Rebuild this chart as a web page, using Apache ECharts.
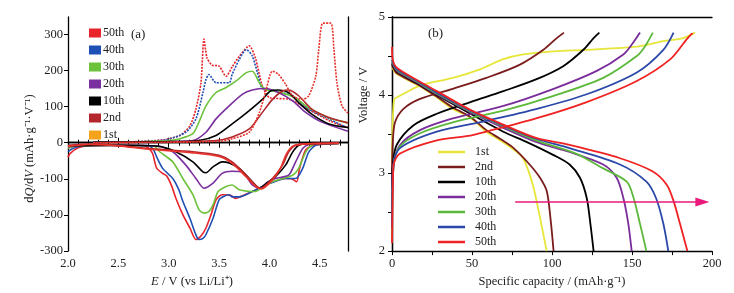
<!DOCTYPE html>
<html>
<head>
<meta charset="utf-8">
<script src="https://cdn.jsdelivr.net/npm/echarts@6/dist/echarts.min.js"></script>
<style>
  html, body { margin: 0; padding: 0; background: #fff; }
  #chart { width: 734px; height: 293px; }
</style>
</head>
<body>
<div id="chart"></div>
<script>
// (a) dQ/dV curves, [E / V, dQ/dV]
var cycles = ["1st", "2nd", "10th", "20th", "30th", "40th", "50th"];

var dqCharge50 = [[2.25,1],[2.6,2],[2.94,8],[3.11,20],[3.21,47],[3.27,93],[3.32,166],[3.35,287],[3.38,235],[3.43,215],[3.5,212],[3.57,184],[3.63,210],[3.7,239],[3.8,268],[3.86,235],[3.93,157],[4.0,125],[4.2,120],[4.4,90],[4.6,60],[4.78,42]];
var dqCharge40 = [[2.25,1],[2.6,2],[2.97,8],[3.17,29],[3.27,66],[3.34,139],[3.37,175],[3.4,189],[3.47,166],[3.6,166],[3.63,189],[3.7,230],[3.77,258],[3.83,240],[3.88,194],[3.93,150],[4.03,144],[4.23,130],[4.39,93],[4.59,66],[4.78,40]];
var dqCharge30 = [[2.25,1],[2.6,2],[3.0,6],[3.11,11],[3.24,25],[3.3,57],[3.37,102],[3.47,139],[3.57,153],[3.67,171],[3.77,194],[3.83,198],[3.9,166],[3.96,148],[4.1,140],[4.25,125],[4.4,95],[4.6,68],[4.78,55]];
var dqCharge20 = [[2.25,1],[2.6,2],[3.0,3],[3.24,6],[3.37,29],[3.47,66],[3.6,102],[3.73,134],[3.83,146],[3.96,150],[4.09,139],[4.23,116],[4.36,84],[4.52,57],[4.78,32]];
var dqCharge10 = [[2.25,1],[2.6,2],[3.0,3],[3.3,6],[3.47,20],[3.63,52],[3.8,89],[3.93,120],[4.01,143],[4.09,146],[4.19,139],[4.29,111],[4.42,79],[4.59,52],[4.78,42]];
var dqCharge2 = [[2.25,0],[2.6,1],[3.0,2],[3.47,6],[3.63,16],[3.8,38],[3.93,84],[4.03,120],[4.13,143],[4.19,146],[4.29,130],[4.42,93],[4.59,70],[4.78,55]];
var dqCharge1 = [[2.25,0],[3.0,1],[3.5,4],[3.63,11],[3.8,29],[3.9,84],[3.96,139],[4.03,198],[4.09,189],[4.16,162],[4.23,130],[4.33,120],[4.39,130],[4.46,184],[4.49,258],[4.53,331],[4.61,331],[4.64,258],[4.67,166],[4.72,102],[4.78,82]];

var dqDischarge50 = [[2.0,-40],[2.02,-30],[2.1,-14],[2.2,-8],[2.5,-7],[2.75,-8],[2.8,-15],[2.84,-30],[2.88,-70],[2.94,-85],[2.98,-92],[3.03,-120],[3.07,-153],[3.14,-199],[3.21,-236],[3.27,-268],[3.32,-258],[3.37,-236],[3.42,-199],[3.47,-158],[3.53,-144],[3.62,-146],[3.66,-154],[3.75,-145],[3.9,-126],[4.0,-112],[4.16,-99],[4.22,-100],[4.27,-108],[4.3,-70],[4.36,-20],[4.44,-7],[4.69,-3]];
var dqDischarge40 = [[2.0,-25],[2.05,-15],[2.15,-8],[2.5,-7],[2.8,-8],[2.85,-20],[2.88,-39],[2.94,-71],[3.04,-99],[3.1,-130],[3.14,-162],[3.21,-209],[3.27,-255],[3.3,-268],[3.34,-265],[3.37,-254],[3.44,-209],[3.5,-158],[3.55,-148],[3.6,-144],[3.63,-150],[3.7,-150],[3.83,-135],[3.96,-117],[4.05,-108],[4.16,-99],[4.26,-99],[4.33,-71],[4.39,-26],[4.46,-7],[4.6,-3],[4.69,-2]];
var dqDischarge30 = [[2.0,-15],[2.1,-9],[2.5,-7],[2.85,-9],[2.91,-25],[3.04,-53],[3.14,-99],[3.24,-144],[3.3,-185],[3.35,-195],[3.4,-190],[3.44,-172],[3.49,-135],[3.57,-121],[3.63,-117],[3.7,-130],[3.86,-135],[3.95,-120],[4.03,-108],[4.23,-90],[4.29,-71],[4.36,-26],[4.42,-7],[4.5,-3],[4.69,-2]];
var dqDischarge20 = [[2.0,-12],[2.1,-8],[2.5,-7],[2.9,-9],[3.04,-25],[3.17,-62],[3.27,-99],[3.35,-126],[3.44,-112],[3.53,-85],[3.63,-79],[3.73,-81],[3.83,-117],[3.9,-126],[3.98,-110],[4.06,-99],[4.19,-90],[4.26,-53],[4.33,-16],[4.39,-5],[4.5,-2],[4.69,-1]];
var dqDischarge10 = [[2.0,-8],[2.1,-8],[2.5,-7],[2.9,-10],[3.07,-25],[3.24,-53],[3.34,-81],[3.37,-83],[3.44,-67],[3.53,-53],[3.6,-56],[3.7,-71],[3.83,-108],[3.9,-126],[3.98,-110],[4.06,-94],[4.16,-62],[4.23,-26],[4.29,-7],[4.36,-3],[4.69,-1]];
var dqDischarge2 = [[2.0,-8],[2.2,-4],[2.5,-8],[2.8,-16],[3.24,-25],[3.5,-35],[3.63,-53],[3.77,-90],[3.86,-117],[3.91,-126],[4.03,-99],[4.13,-62],[4.19,-26],[4.26,-7],[4.39,-3],[4.69,-1]];
var dqDischarge1 = [[2.0,-10],[2.2,-5],[2.5,-9],[2.8,-18],[3.24,-28],[3.5,-38],[3.63,-57],[3.77,-95],[3.86,-120],[3.92,-128],[4.03,-103],[4.11,-70],[4.17,-30],[4.24,-8],[4.39,-3],[4.69,-1]];

// (b) charge / discharge curves, [capacity mAh/g, voltage V]
var vCharge1 = [[0,3.1],[0.3,3.6],[0.8,3.82],[1.6,3.95],[5,3.99],[17.5,4.12],[38,4.22],[55,4.33],[69.6,4.46],[82,4.52],[101,4.56],[121.7,4.58],[153,4.62],[169.6,4.69],[182,4.73],[189.4,4.8]];
var vCharge2 = [[0,3.0],[0.5,3.4],[1.9,3.65],[7,3.82],[17.5,3.95],[38,4.08],[59,4.22],[80,4.39],[94.6,4.58],[103,4.73],[107.5,4.8]];
var vCharge10 = [[0,2.8],[0.5,3.1],[2.9,3.36],[13.3,3.61],[28,3.76],[49,3.91],[69.6,4.05],[90,4.2],[107,4.37],[119.6,4.58],[126,4.73],[129.6,4.8]];
var vCharge20 = [[0,2.6],[0.8,3.1],[5,3.36],[17.5,3.55],[38,3.7],[69.6,3.86],[101,4.08],[128,4.31],[144.6,4.52],[150,4.65],[155,4.8]];
var vCharge30 = [[0,2.15],[1,3.1],[5,3.34],[17.5,3.51],[38,3.65],[69.6,3.8],[101,3.99],[132,4.22],[153,4.5],[158,4.62],[163,4.8]];
var vCharge40 = [[0,2.3],[1,3.1],[5,3.32],[28,3.53],[59,3.67],[90,3.82],[121.7,4.01],[153,4.29],[169.6,4.58],[176,4.8]];
var vCharge50 = [[0,2.1],[0.5,2.8],[1,3.1],[5,3.25],[28,3.42],[49,3.48],[59,3.53],[90,3.7],[121.7,3.91],[153,4.18],[174,4.46],[184,4.71],[188,4.8]];

var vDischarge1 = [[0,4.36],[1,4.32],[3,4.27],[17.5,4.11],[28,3.97],[38,3.82],[49,3.71],[59,3.53],[67.5,3.42],[76,3.3],[82,3.19],[88,2.85],[92.5,2.43],[96.7,2.0]];
var vDischarge2 = [[0,4.38],[1,4.34],[3,4.28],[17.5,4.12],[28,3.98],[38,3.84],[49,3.72],[59,3.55],[67.5,3.44],[76,3.32],[86,3.11],[92.5,2.94],[96.7,2.77],[99,2.43],[101,2.0]];
var vDischarge10 = [[0,4.4],[1,4.36],[3,4.3],[17.5,4.13],[28,4.0],[49,3.76],[69.6,3.53],[84,3.4],[101,3.23],[111,3.11],[117.5,2.94],[121.7,2.68],[124,2.35],[126,2.0]];
var vDischarge20 = [[0,4.42],[1,4.38],[3,4.31],[17.5,4.14],[28,4.01],[49,3.78],[69.6,3.58],[90,3.4],[111,3.27],[132,3.11],[140.4,2.94],[144.6,2.68],[147.7,2.35],[149.8,2.0]];
var vDischarge30 = [[0,4.43],[1,4.39],[3,4.32],[17.5,4.15],[28,4.02],[49,3.79],[69.6,3.6],[90,3.42],[115,3.25],[132,3.06],[146.7,2.89],[151,2.68],[155,2.35],[159,2.0]];
var vDischarge40 = [[0,4.45],[1,4.4],[3,4.33],[17.5,4.16],[28,4.03],[49,3.8],[69.6,3.61],[90,3.44],[111,3.32],[142.5,3.11],[159,2.89],[165,2.68],[169.6,2.35],[172.7,2.0]];
var vDischarge50 = [[0,4.62],[0.5,4.45],[3,4.35],[17.5,4.17],[28,4.05],[49,3.81],[69.6,3.62],[90,3.45],[111,3.36],[142.5,3.19],[163,3.02],[171.7,2.85],[176,2.64],[180,2.35],[184.6,2.0]];

// arrow in (b)
var arrowStart = [77, 2.63];
var arrowEnd = [194, 2.63];

var colorsA = { "1st": "#e8322a", "2nd": "#b3262c", "10th": "#000000", "20th": "#7a2f9e", "30th": "#6cc23a", "40th": "#1f50b5", "50th": "#e8232a" };
var legendColorA = { "1st": "#f5a21c" };
var colorsB = { "1st": "#e6e63a", "2nd": "#7b1c1c", "10th": "#000000", "20th": "#7a2d9a", "30th": "#5cb83a", "40th": "#2b48a8", "50th": "#f02222" };

var chargeA = { "1st": dqCharge1, "2nd": dqCharge2, "10th": dqCharge10, "20th": dqCharge20, "30th": dqCharge30, "40th": dqCharge40, "50th": dqCharge50 };
var dischargeA = { "1st": dqDischarge1, "2nd": dqDischarge2, "10th": dqDischarge10, "20th": dqDischarge20, "30th": dqDischarge30, "40th": dqDischarge40, "50th": dqDischarge50 };
var chargeB = { "1st": vCharge1, "2nd": vCharge2, "10th": vCharge10, "20th": vCharge20, "30th": vCharge30, "40th": vCharge40, "50th": vCharge50 };
var dischargeB = { "1st": vDischarge1, "2nd": vDischarge2, "10th": vDischarge10, "20th": vDischarge20, "30th": vDischarge30, "40th": vDischarge40, "50th": vDischarge50 };

var serif = "Liberation Serif";
var chart = echarts.init(document.getElementById("chart"));

var series = [];
// panel (a): draw 50th first so later cycles sit on top like in the figure
cycles.slice().reverse().forEach(function(c) {
  var dotted = (c === "50th" || c === "1st" || c === "40th");
  [chargeA[c], dischargeA[c]].forEach(function(d, k) {
    series.push({
      name: "a-" + c,
      type: "line",
      xAxisIndex: 0,
      yAxisIndex: 0,
      data: d,
      symbol: "none",
      smooth: 0.25,
      lineStyle: {
        color: colorsA[c],
        width: 1.6,
        type: (dotted && k === 0) ? [2, 1.2] : "solid"
      },
      itemStyle: { color: colorsA[c] }
    });
  });
});
// panel (b)
cycles.forEach(function(c) {
  [chargeB[c], dischargeB[c]].forEach(function(d) {
    series.push({
      name: "b-" + c,
      type: "line",
      xAxisIndex: 2,
      yAxisIndex: 2,
      data: d,
      symbol: "none",
      smooth: 0.3,
      lineStyle: { color: colorsB[c], width: 1.8 },
      itemStyle: { color: colorsB[c] }
    });
  });
});
series.push({
  name: "arrow",
  type: "line",
  xAxisIndex: 2,
  yAxisIndex: 2,
  data: [],
  markLine: {
    silent: true,
    symbol: ["none", "triangle"],
    symbolSize: [9, 14],
    label: { show: false },
    lineStyle: { color: "#e8197a", width: 1.6, type: "solid" },
    data: [[{ coord: arrowStart }, { coord: arrowEnd }]]
  }
});

var axisText = { color: "#222", fontFamily: serif, fontSize: 12.5 };
var frameLine = { show: true, lineStyle: { color: "#000", width: 1.3 } };
var richName = {
  i: { fontFamily: serif, fontSize: 12.5, fontStyle: "italic", color: "#222" },
  n: { fontFamily: serif, fontSize: 12.5, color: "#222" }
};

var option = {
  backgroundColor: "#fff",
  animation: false,
  grid: [
    { left: 68, right: 386, top: 17, bottom: 39 },
    { left: 392, right: 22, top: 17, bottom: 38 }
  ],
  xAxis: [
    {
      gridIndex: 0, type: "value", min: 2, max: 4.78, interval: 0.5,
      name: "{i|E}{n| / V (vs Li/Li⁺)}",
      nameLocation: "middle", nameGap: 21,
      nameTextStyle: { padding: [0, 32, 0, 0], rich: richName },
      axisLine: frameLine,
      axisTick: { inside: true, length: 5, lineStyle: { color: "#000" } },
      minorTick: { show: true, splitNumber: 5, length: 3, lineStyle: { color: "#000" } },
      axisLabel: Object.assign({ margin: 6, showMaxLabel: false, formatter: function(v) { return v.toFixed(1); } }, axisText),
      splitLine: { show: false }
    },
    {
      gridIndex: 0, type: "value", min: 2, max: 4.78, interval: 0.5, position: "top",
      axisLine: frameLine,
      axisTick: { inside: true, length: 5, lineStyle: { color: "#000" } },
      minorTick: { show: true, splitNumber: 5, length: 3, lineStyle: { color: "#000" } },
      axisLabel: { show: false },
      splitLine: { show: false }
    },
    {
      gridIndex: 1, type: "value", min: 0, max: 200, interval: 50,
      name: "Specific capacity / (mAh·g⁻¹)",
      nameLocation: "middle", nameGap: 21,
      nameTextStyle: { fontFamily: serif, fontSize: 12.5, color: "#222" },
      axisLine: frameLine,
      axisTick: { inside: false, length: 4, lineStyle: { color: "#000" } },
      minorTick: { show: true, splitNumber: 2, length: 4, lineStyle: { color: "#000" } },
      axisLabel: Object.assign({ margin: 6 }, axisText),
      splitLine: { show: false }
    },
    {
      gridIndex: 1, type: "value", min: 0, max: 200, position: "top",
      axisLine: frameLine, axisTick: { show: false }, axisLabel: { show: false }, splitLine: { show: false }
    }
  ],
  yAxis: [
    {
      gridIndex: 0, type: "value", min: -300, max: 348, interval: 100,
      name: "{n|d}{i|Q}{n|/d}{i|V}{n| (mAh·g⁻¹·V⁻¹)}",
      nameLocation: "middle", nameGap: 32,
      nameTextStyle: { padding: [0, 29, 0, 0], rich: richName },
      axisLine: frameLine,
      axisTick: { inside: false, length: 4, lineStyle: { color: "#000" } },
      axisLabel: Object.assign({ margin: 5, showMaxLabel: false }, axisText),
      splitLine: { show: false }
    },
    {
      gridIndex: 0, type: "value", min: -300, max: 348, position: "right",
      axisLine: frameLine, axisTick: { show: false }, axisLabel: { show: false }, splitLine: { show: false }
    },
    {
      gridIndex: 1, type: "value", min: 2, max: 5, interval: 1,
      name: "Voltage / V",
      nameLocation: "middle", nameGap: 22,
      nameTextStyle: { fontFamily: serif, fontSize: 12.5, color: "#222", padding: [0, 0, 0, 78] },
      axisLine: frameLine,
      axisTick: { inside: false, length: 4, lineStyle: { color: "#000" } },
      minorTick: { show: true, splitNumber: 2, length: 4, lineStyle: { color: "#000" } },
      axisLabel: Object.assign({ margin: 7 }, axisText),
      splitLine: { show: false }
    },
    {
      gridIndex: 1, type: "value", min: 2, max: 5, position: "right",
      axisLine: frameLine, axisTick: { show: false }, axisLabel: { show: false }, splitLine: { show: false }
    }
  ],
  legend: [
    {
      left: 84, top: 22, orient: "vertical",
      icon: "rect", itemWidth: 12, itemHeight: 9, itemGap: 5,
      selectedMode: false,
      textStyle: { fontFamily: serif, fontSize: 12, color: "#222", padding: [0, 0, 0, -3] },
      formatter: function(n) { return n.replace("a-", ""); },
      data: cycles.slice().reverse().map(function(c) {
        var col = legendColorA[c] || colorsA[c];
        return { name: "a-" + c, itemStyle: { color: col } };
      })
    },
    {
      left: 433, top: 141, orient: "vertical",
      icon: "rect", itemWidth: 27, itemHeight: 2.5, itemGap: 3,
      selectedMode: false,
      textStyle: { fontFamily: serif, fontSize: 12, color: "#222", padding: [0, 0, 0, 5] },
      formatter: function(n) { return n.replace("b-", ""); },
      data: cycles.map(function(c) { return { name: "b-" + c, itemStyle: { color: colorsB[c] } }; })
    }
  ],
  graphic: [
    { type: "text", left: 131, top: 28, style: { text: "(a)", font: "13px '" + serif + "'", fill: "#222" } },
    { type: "text", left: 428, top: 27, style: { text: "(b)", font: "13px '" + serif + "'", fill: "#222" } }
  ],
  series: series
};

chart.setOption(option);
</script>
</body>
</html>
